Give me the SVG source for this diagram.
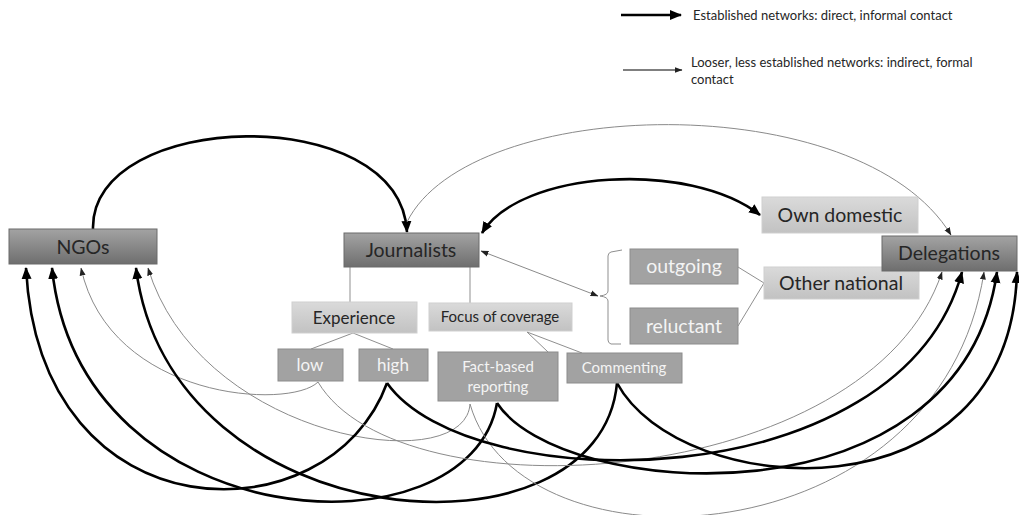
<svg xmlns="http://www.w3.org/2000/svg" width="1019" height="515" viewBox="0 0 1019 515">
<defs>
<linearGradient id="gDark" x1="0" y1="0" x2="0" y2="1"><stop offset="0" stop-color="#a3a3a3"/><stop offset="1" stop-color="#6e6e6e"/></linearGradient>
<linearGradient id="gLight" x1="0" y1="0" x2="0" y2="1"><stop offset="0" stop-color="#dadada"/><stop offset="1" stop-color="#c2c2c2"/></linearGradient>
<marker id="aThick" markerUnits="userSpaceOnUse" markerWidth="12" markerHeight="12" viewBox="0 0 12 12" refX="11" refY="6" orient="auto-start-reverse"><path d="M0,1 L12,6 L0,11 Z" fill="#000"/></marker>
<marker id="aThin" markerUnits="userSpaceOnUse" markerWidth="8" markerHeight="8" viewBox="0 0 8 8" refX="7.5" refY="4" orient="auto-start-reverse"><path d="M0,1 L8,4 L0,7 Z" fill="#222"/></marker>
<style>
text{font-family:Lato,"Liberation Sans",sans-serif;text-anchor:middle}
.dark rect{fill:url(#gDark);stroke:#6a6a6a;stroke-width:1}
.dark text{fill:#262626;font-size:19.5px}
.light rect{fill:url(#gLight);stroke:#cfcfcf;stroke-width:1}
.light text{fill:#262626}
.mid rect{fill:#a2a2a2;stroke:#8c8c8c;stroke-width:1}
.mid text{fill:#f4f4f4}
.thick{fill:none;stroke:#000;stroke-width:2.6;marker-end:url(#aThick)}
.thin{fill:none;stroke:#8a8a8a;stroke-width:1;marker-end:url(#aThin)}
.tree{fill:none;stroke:#8f8f8f;stroke-width:1}
.legend{font-size:13px;fill:#262626;text-anchor:start}
</style>
</defs>
<rect width="1019" height="515" fill="#fff"/>

<g id="legend">
<line x1="621" y1="15" x2="681" y2="15" stroke="#000" stroke-width="2.6" marker-end="url(#aThick)"/>
<text class="legend" x="693" y="20">Established networks: direct, informal contact</text>
<line x1="623" y1="70" x2="682" y2="70" stroke="#000" stroke-width="1.2" marker-end="url(#aThin)"/>
<text class="legend" x="691" y="67">Looser, less established networks: indirect, formal</text>
<text class="legend" x="691" y="84">contact</text>
</g>

<g id="connectors">
<path class="tree" d="M350,267 V302 M470,267 V303"/>
<path class="tree" d="M353,333 L311,349 M353,333 L393,349"/>
<path class="tree" d="M527,332 L548,352 M527,332 L582,353"/>
<path class="tree" d="M738,267 L764,283 L738,326"/>
<path class="tree" d="M622,250 L611,252 Q608,253 608,256 L608,291 Q608,295 600,296 Q608,297 608,301 L608,340 Q608,343 611,344 L621,344"/>
<line class="thin" x1="481" y1="251" x2="598" y2="296" style="marker-start:url(#aThin)"/>
<path class="thick" d="M93,229 C90,110 400,100 407,232"/>
<path class="thin" d="M407,222 C470,95 860,85 951,235"/>
<path class="thick" d="M482,233 C520,170 690,160 760,215" style="marker-start:url(#aThick)"/>
<path class="thin" d="M318,382 C290,410 110,400 81,268"/>
<path class="thin" d="M470,404 C465,480 200,440 148,268"/>
<path class="thick" d="M387,383 C330,540 40,540 26,268"/>
<path class="thick" d="M497,403 C470,560 80,540 52,268"/>
<path class="thick" d="M617,383 C600,570 170,540 136,268"/>
<path class="thin" d="M318,382 C400,520 870,490 942,272"/>
<path class="thin" d="M470,404 C520,580 940,560 984,272"/>
<path class="thick" d="M387,383 C470,500 900,500 962,272"/>
<path class="thick" d="M497,403 C560,500 960,530 997,272"/>
<path class="thick" d="M617,383 C680,500 1010,525 1017,272"/>
</g>

<g id="ngos" class="dark"><rect x="9" y="229" width="148" height="35"/><text x="83" y="253.5">NGOs</text></g>
<g id="journalists" class="dark"><rect x="344" y="233" width="135" height="34"/><text x="411" y="257">Journalists</text></g>
<g id="own-domestic" class="light"><rect x="762" y="197" width="156" height="36"/><text x="840" y="222" style="font-size:19.5px">Own domestic</text></g>
<g id="other-national" class="light"><rect x="764" y="267" width="155" height="32"/><text x="841" y="290" style="font-size:19.5px">Other national</text></g>
<g id="delegations" class="dark"><rect x="882" y="236" width="135" height="35"/><text x="949" y="260">Delegations</text></g>
<g id="experience" class="light"><rect x="292" y="302" width="125" height="31"/><text x="354" y="323.5" style="font-size:17px">Experience</text></g>
<g id="focus" class="light"><rect x="429" y="303" width="143" height="28"/><text x="500" y="322" style="font-size:15px">Focus of coverage</text></g>
<g id="low" class="mid"><rect x="278" y="349" width="65" height="32"/><text x="310" y="371" style="font-size:17px">low</text></g>
<g id="high" class="mid"><rect x="359" y="349" width="69" height="32"/><text x="393" y="371" style="font-size:17px">high</text></g>
<g id="fact-based" class="mid"><rect x="438" y="352" width="120" height="49"/><text x="498" y="372" style="font-size:15px">Fact-based</text><text x="498" y="392" style="font-size:15px">reporting</text></g>
<g id="commenting" class="mid"><rect x="567" y="353" width="115" height="30"/><text x="624" y="373" style="font-size:15px">Commenting</text></g>
<g id="outgoing" class="mid"><rect x="630" y="249" width="108" height="35"/><text x="684" y="273" style="font-size:19.5px">outgoing</text></g>
<g id="reluctant" class="mid"><rect x="630" y="308" width="108" height="36"/><text x="684" y="333" style="font-size:19.5px">reluctant</text></g>
</svg>
